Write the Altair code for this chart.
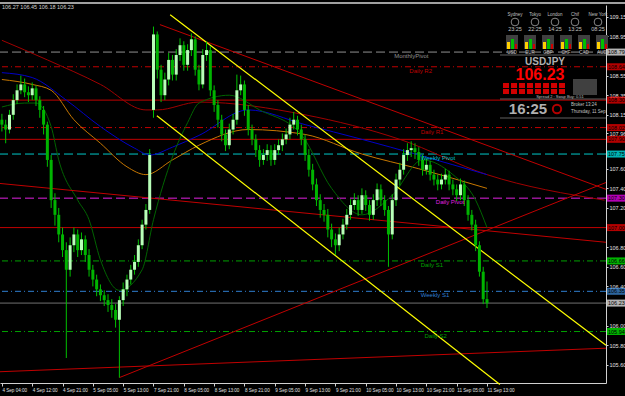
import altair as alt
import pandas as pd

# ---------------- data ----------------
closes = [108.05,108.00,108.15,108.30,108.40,108.46,108.38,108.35,108.42,108.30,
          108.20,108.05,107.69,107.28,107.13,106.93,106.77,106.57,106.82,106.93,
          106.77,106.88,106.72,106.57,106.47,106.37,106.31,106.26,106.21,106.16,
          106.06,106.26,106.37,106.47,106.57,106.65,106.82,107.03,107.18,107.74,
          108.97,108.61,108.35,108.51,108.71,108.56,108.76,108.86,108.66,108.81,
          108.92,108.61,108.46,108.76,108.81,108.40,108.25,108.10,107.95,107.84,
          108.00,108.10,108.40,108.46,108.20,108.00,107.90,107.79,107.69,107.74,
          107.79,107.69,107.79,107.84,107.90,107.95,108.05,108.10,108.00,107.90,
          107.74,107.59,107.44,107.28,107.18,107.13,106.98,106.88,106.82,106.93,
          107.03,107.13,107.23,107.28,107.18,107.33,107.23,107.13,107.28,107.39,
          107.28,107.18,106.93,107.28,107.49,107.59,107.74,107.79,107.81,107.77,
          107.69,107.59,107.64,107.54,107.49,107.44,107.49,107.54,107.44,107.39,
          107.33,107.44,107.28,107.13,107.03,106.82,106.55,106.27,106.23]
opens = [108.10,108.05,108.00,108.15,108.30,108.40,108.46,108.38,108.35,108.42,
         108.30,108.20,108.05,107.69,107.28,107.13,106.93,106.77,106.57,106.82,
         106.93,106.77,106.88,106.72,106.57,106.47,106.37,106.31,106.26,106.21,
         106.16,106.06,106.26,106.37,106.47,106.57,106.65,106.82,107.03,107.18,
         108.20,108.97,108.61,108.35,108.51,108.71,108.56,108.76,108.86,108.66,
         108.81,108.92,108.61,108.46,108.76,108.81,108.40,108.25,108.10,107.95,
         107.84,108.00,108.10,108.40,108.46,108.20,108.00,107.90,107.79,107.69,
         107.74,107.79,107.69,107.79,107.84,107.90,107.95,108.05,108.10,108.00,
         107.90,107.74,107.59,107.44,107.28,107.18,107.13,106.98,106.88,106.82,
         106.93,107.03,107.13,107.23,107.28,107.18,107.33,107.23,107.13,107.28,
         107.39,107.28,107.18,106.93,107.28,107.49,107.59,107.74,107.79,107.81,
         107.77,107.69,107.59,107.64,107.54,107.49,107.44,107.49,107.54,107.44,
         107.39,107.33,107.44,107.28,107.13,107.03,106.82,106.55,106.27]
highs = [108.16,108.10,108.20,108.36,108.46,108.55,108.52,108.44,108.48,108.45,
         108.34,108.24,108.08,107.74,107.35,107.20,107.00,106.85,106.90,107.00,
         106.98,106.95,106.92,106.78,106.62,106.52,106.42,106.36,106.32,106.27,
         106.22,106.30,106.44,106.52,106.62,106.72,106.88,107.08,107.24,107.80,
         109.05,109.00,108.66,108.58,108.78,108.76,108.82,108.93,108.90,108.87,
         108.98,108.95,108.66,108.82,108.90,108.85,108.45,108.30,108.15,108.00,
         108.06,108.16,108.56,108.55,108.50,108.25,108.05,107.95,107.84,107.80,
         107.85,107.84,107.85,107.90,107.96,108.01,108.12,108.18,108.14,108.05,
         107.95,107.80,107.65,107.50,107.34,107.24,107.19,107.04,106.94,107.00,
         107.09,107.19,107.29,107.35,107.33,107.40,107.38,107.28,107.34,107.45,
         107.44,107.33,107.22,107.34,107.55,107.66,107.80,107.86,107.88,107.86,
         107.82,107.74,107.70,107.68,107.59,107.54,107.55,107.60,107.58,107.49,
         107.44,107.50,107.48,107.33,107.18,107.08,106.86,106.60,106.45]
lows = [107.98,107.86,107.96,108.10,108.26,108.36,108.33,108.28,108.30,108.24,
        108.12,107.95,107.62,107.20,107.02,106.85,106.70,105.67,106.50,106.75,
        106.70,106.72,106.65,106.50,106.40,106.30,106.25,106.20,106.14,106.08,
        105.98,105.47,106.20,106.30,106.42,106.52,106.60,106.78,106.98,107.14,
        108.12,108.52,108.28,108.30,108.45,108.50,108.50,108.70,108.60,108.60,
        108.75,108.55,108.40,108.42,108.70,108.34,108.18,108.02,107.88,107.78,
        107.80,107.95,108.05,108.35,108.14,107.94,107.84,107.72,107.62,107.64,
        107.68,107.63,107.64,107.74,107.78,107.85,107.90,108.00,107.94,107.84,
        107.68,107.52,107.38,107.22,107.10,107.06,106.90,106.80,106.72,106.76,
        106.88,106.98,107.08,107.18,107.12,107.14,107.17,107.07,107.08,107.22,
        107.22,107.12,106.60,106.88,107.22,107.43,107.54,107.68,107.72,107.70,
        107.63,107.53,107.54,107.48,107.43,107.38,107.39,107.44,107.38,107.33,
        107.27,107.28,107.22,107.07,106.97,106.76,106.50,106.22,106.18]

time_labels = ["4 Sep 04:00","4 Sep 12:00","4 Sep 21:00","5 Sep 05:00","5 Sep 13:00",
               "7 Sep 21:00","8 Sep 05:00","8 Sep 13:00","8 Sep 21:00","9 Sep 05:00",
               "9 Sep 13:00","9 Sep 21:00","10 Sep 05:00","10 Sep 13:00","10 Sep 21:00",
               "11 Sep 05:00","11 Sep 13:00"]
price_ticks = [109.15,108.95,108.55,108.35,108.15,107.96,107.60,107.40,107.20,
               106.80,106.60,106.40,106.00,105.80,105.60]

# moving averages: (bar, price)
ma_blue = [(0,108.58),(8,108.53),(17,108.30),(26,108.03),(35,107.81),(39,107.74),
           (45,107.82),(52,107.94),(65,108.20),(80,108.05),(95,107.90),(110,107.74),(128,107.54)]
ma_orange = [(0,108.51),(8,108.46),(13,108.40),(19,108.10),(26,107.86),(33,107.62),
             (38,107.54),(45,107.69),(52,107.84),(65,108.00),(80,107.95),(95,107.75),
             (110,107.60),(128,107.40)]
ma_green = [(0,108.23),(6,108.27),(9,108.27),(13,108.03),(15,107.69),(20,107.28),
            (23,107.08),(26,106.67),(31,106.36),(37,106.57),(40,107.08),(45,107.72),
            (49,108.07),(52,108.27),(60,108.35),(68,108.20),(79,107.95),(87,107.40),
            (95,107.13),(103,107.33),(111,107.69),(119,107.54),(125,107.28),(128,107.00)]
ma_red = [(0,108.91),(12,108.71),(26,108.46),(38,108.20),(41,108.20),(52,108.28),
          (80,108.15),(105,107.90),(128,107.54),(159,107.28)]

# trend / channel segments: (bar1, price1, bar2, price2)
yellow_lines = [(44.4,109.17,159.4,105.80),(40.9,108.14,131.4,105.40)]
red_lines = [(31,105.47,159.4,107.46),(-0.5,105.53,159.4,105.77),
             (41.7,109.07,159.4,107.39),(-0.5,107.45,159.4,106.85)]

# pivot levels
levels = [108.79,108.64,108.30,108.02,107.90,107.75,107.30,107.00,106.66,106.35,106.23,105.94]
level_names = ["MonthlyPivot","Daily R2","","Daily R1","","Weekly Pivot","Daily Pivot","",
               "Daily S1","Weekly S1","","Daily S2"]
level_colors = ["#909090","#c00000","#c00000","#c00000","#c00000","#00c8c8","#e020e0",
                "#c00000","#00a000","#2f7fd0","#707070","#00a000"]
level_dash = [[9,4],[6,3,1,3],[1,0],[6,3,1,3],[1,0],[9,4],[9,4],[1,0],[6,3,1,3],
              [6,3,1,3],[1,0],[6,3,1,3]]
box_fill = ["#ffffff","#ff0000","#ff0000","#ff0000","#ff0000","#00ffff","#ff00ff",
            "#ff0000","#00ff00","#4090e0","#ffffff","#00ff00"]

# ---------------- layout ----------------
W, H = 606, 378
FONT = "Liberation Sans"
xs = alt.Scale(domain=[-0.5, 159.4], nice=False, zero=False)
ys = alt.Scale(domain=[105.415, 109.27], nice=False, zero=False)

n = len(closes)
candles = pd.DataFrame({
    "bar": list(range(n)), "o": opens, "h": highs, "l": lows, "c": closes,
})
candles["col"] = ["#b8ffb8" if c >= o else "#00b400" for o, c in zip(opens, closes)]

x_axis = alt.Axis(values=[i * 8 for i in range(len(time_labels))],
                  labelExpr="[" + ",".join("'%s'" % t for t in time_labels) + "][round(datum.value/8)]",
                  labelAlign="left", labelColor="#e0e0e0", labelFontSize=4.6, labelFont=FONT,
                  tickColor="#d0d0d0", tickSize=3, domainColor="#d0d0d0", labelPadding=1,
                  grid=False, title=None, labelOverlap=False, labelFlush=False, labelBound=False)
y_axis = alt.Axis(orient="right", values=price_ticks, format=".2f", labelColor="#e0e0e0",
                  labelFontSize=5.5, labelFont=FONT, tickColor="#d0d0d0", tickSize=2,
                  domainColor="#d0d0d0", labelPadding=1, grid=False, title=None,
                  labelOverlap=False, labelFlush=False, labelBound=False)

wick = alt.Chart(candles).mark_rule(color="#00c000", strokeWidth=1).encode(
    x=alt.X("bar:Q", scale=xs, axis=x_axis),
    y=alt.Y("l:Q", scale=ys, axis=y_axis),
    y2="h:Q",
)
body = alt.Chart(candles).mark_rule(strokeWidth=3).encode(
    x=alt.X("bar:Q", scale=xs, axis=x_axis), y=alt.Y("o:Q", scale=ys, axis=y_axis), y2="c:Q",
    color=alt.Color("col:N", scale=None),
)

layers = []
# level lines
for p, col, dash in zip(levels, level_colors, level_dash):
    layers.append(alt.Chart(pd.DataFrame({"p": [p]})).mark_rule(
        color=col, strokeWidth=1, strokeDash=dash).encode(y=alt.Y("p:Q", scale=ys, axis=y_axis)))

def ma_layer(pts, col, w=1):
    df = pd.DataFrame(pts, columns=["bar", "p"])
    return alt.Chart(df).mark_line(color=col, strokeWidth=w, interpolate="monotone").encode(
        x=alt.X("bar:Q", scale=xs, axis=x_axis), y=alt.Y("p:Q", scale=ys, axis=y_axis))

layers += [ma_layer(ma_red, "#a00000"), ma_layer(ma_blue, "#0000c8"),
           ma_layer(ma_orange, "#c87800"), ma_layer(ma_green, "#006400")]

def seg_layer(segs, col, w):
    df = pd.DataFrame(segs, columns=["b1", "p1", "b2", "p2"])
    return alt.Chart(df).mark_rule(color=col, strokeWidth=w).encode(
        x=alt.X("b1:Q", scale=xs, axis=x_axis), y=alt.Y("p1:Q", scale=ys, axis=y_axis),
        x2="b2:Q", y2="p2:Q")

layers += [seg_layer(red_lines, "#c00000", 1), seg_layer(yellow_lines, "#ffff00", 1.2)]

# level name labels
lab = pd.DataFrame({"p": levels, "t": level_names, "col": level_colors})
lab = lab[lab.t != ""].copy()
lab["bar"] = [103.5, 107.5, 110.5, 110.5, 114.5, 110.5, 110.5, 111.5]
lab_layer = alt.Chart(lab).mark_text(align="left", baseline="top", dy=1, fontSize=6,
                                     font=FONT).encode(
    x=alt.X("bar:Q", scale=xs, axis=x_axis), y=alt.Y("p:Q", scale=ys, axis=y_axis), text="t:N",
    color=alt.Color("col:N", scale=None))

# price boxes on axis
boxes = pd.DataFrame({"p": levels, "fill": box_fill,
                      "t": ["%.2f" % v for v in levels]})
box_layer = alt.Chart(boxes).mark_tick(orient="horizontal", size=18, thickness=7).encode(
    x=alt.value(616), y=alt.Y("p:Q", scale=ys, axis=y_axis), color=alt.Color("fill:N", scale=None))
box_text = alt.Chart(boxes).mark_text(align="left", fontSize=5.5, font=FONT,
                                      color="#000000").encode(
    x=alt.value(608), y=alt.Y("p:Q", scale=ys, axis=y_axis), text="t:N")

# top-left OHLC text and info panel
ohlc_text = "106.27 106.45 106.18 106.23"
panel_cities = ["Sydney", "Tokyo", "London", "Chif", "New York"]
panel_times = ["23:25", "22:25", "14:25", "13:25", "08:25"]
panel_ccy = ["USD", "EUR", "GBP", "CHF", "CAD", "AUD"]

txt = []
txt.append((2, 2, ohlc_text, "#d0d0d0", 5.5, "normal", "left"))
for cx, c, t in zip([515, 535, 555, 575, 598], panel_cities, panel_times):
    txt.append((cx, 10, c, "#c0c0c0", 4.5, "normal", "center"))
    txt.append((cx, 24, t, "#c0c0c0", 5.5, "normal", "center"))
for cx, c in zip([512, 530, 548, 566, 584, 602], panel_ccy):
    txt.append((cx, 48, c, "#c0c0c0", 4.5, "normal", "center"))
txt.append((545, 57, "USDJPY", "#b0b0b0", 10, "bold", "center"))
txt.append((540, 70, "106.23", "#ff0000", 16, "bold", "center"))
txt.append((528, 104, "16:25", "#b0b0b0", 15, "bold", "center"))
txt.append((560, 92, "Spread 2 : Swap Buy: 0.51", "#c0c0c0", 4, "normal", "center"))
txt.append((571, 100, "Broker 13:24", "#c0c0c0", 4.5, "normal", "left"))
txt.append((571, 107, "Thursday, 11 Sep", "#c0c0c0", 4.5, "normal", "left"))
tdf = pd.DataFrame(txt, columns=["x", "y", "t", "col", "fs", "fw", "al"])
text_layers = []
for (fs, fw, al), g in tdf.groupby(["fs", "fw", "al"]):
    text_layers.append(alt.Chart(g).mark_text(fontSize=float(fs), fontWeight=fw, align=al,
                                              baseline="middle", font=FONT).encode(
        x=alt.X("x:Q", scale=None), y=alt.Y("y:Q", scale=None), text="t:N",
        color=alt.Color("col:N", scale=None)))

# panel graphic blocks (clock circles and meter bars)
clock = pd.DataFrame({"x": [515, 535, 555, 575, 598], "y": [17] * 5})
clock_layer = alt.Chart(clock).mark_point(shape="circle", size=60, color="#c0c0c0",
                                          strokeWidth=1).encode(
    x=alt.X("x:Q", scale=None), y=alt.Y("y:Q", scale=None))
meter_x = [506, 524, 542, 560, 578, 596]
meters = []
for mx in meter_x:
    meters.append((mx, mx + 12, 30, 44, "#404040"))
    meters.append((mx + 1, mx + 4, 37, 44, "#ffd000"))
    meters.append((mx + 5, mx + 8, 34, 44, "#00c000"))
    meters.append((mx + 9, mx + 11, 39, 44, "#d00000"))
for k in range(8):
    meters.append((503 + k * 8, 509 + k * 8, 78, 83, "#d00000"))
    meters.append((503 + k * 8, 509 + k * 8, 84, 89, "#d00000"))
meters.append((573, 597, 74, 90, "#404040"))
mdf = pd.DataFrame(meters, columns=["x", "x2", "y", "y2", "col"])
meter_layer = alt.Chart(mdf).mark_rect().encode(
    x=alt.X("x:Q", scale=None), x2="x2:Q", y=alt.Y("y:Q", scale=None), y2="y2:Q",
    color=alt.Color("col:N", scale=None))
panel_lines = pd.DataFrame({"x": [500, 500, 500], "x2": [606, 606, 606], "y": [94, 113, 50]})
panel_line_layer = alt.Chart(panel_lines).mark_rule(color="#606060").encode(
    x=alt.X("x:Q", scale=None), x2="x2:Q", y=alt.Y("y:Q", scale=None))
red_clock = alt.Chart(pd.DataFrame({"x": [557], "y": [104]})).mark_point(
    shape="circle", size=70, color="#ff0000", strokeWidth=2).encode(
    x=alt.X("x:Q", scale=None), y=alt.Y("y:Q", scale=None))

top_border = alt.Chart(pd.DataFrame({"y": [-2]})).mark_rule(color="#a0a0a0", strokeWidth=2).encode(
    y=alt.Y("y:Q", scale=None), x=alt.value(0), x2=alt.value(625))

chart = alt.layer(
    *layers, wick, body, lab_layer, box_layer, box_text, panel_line_layer, meter_layer,
    clock_layer, red_clock, *text_layers, top_border
).properties(
    width=W, height=H, background="#000000",
    padding={"left": 0, "top": 5, "right": 19, "bottom": 13},
    autosize=alt.AutoSizeParams(type="none"),
).configure_view(stroke=None, fill="#000000").configure_axis(labelOverlap=False)

chart.save("out.html", embed_options={"renderer": "svg", "actions": False})
